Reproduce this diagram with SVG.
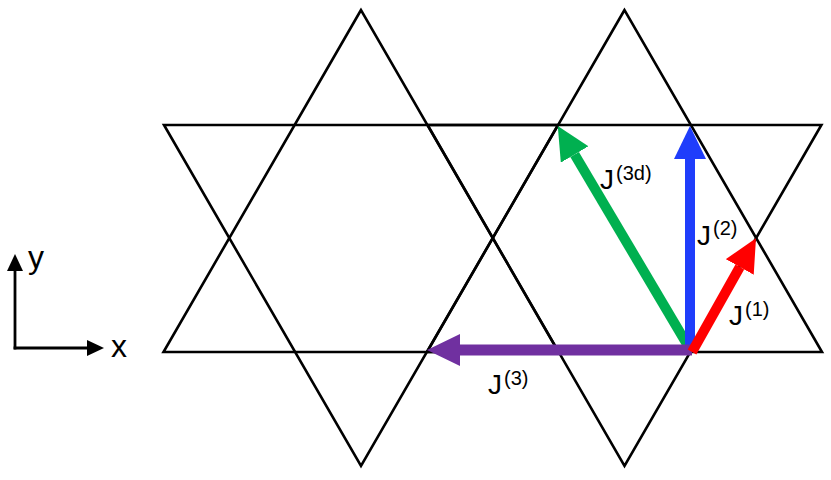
<svg xmlns="http://www.w3.org/2000/svg" width="831" height="480" viewBox="0 0 831 480">
<style>
.lat{fill:none;stroke:#000;stroke-width:2.6;stroke-linejoin:miter}
.ax{fill:none;stroke:#000;stroke-width:2.8}
.lbl{font-family:"Liberation Sans",Arial,sans-serif;fill:#000}
.j{font-size:28px}
.s{font-size:20px}
.axl{font-size:32px}
</style>
<defs>
<marker id="hR" viewBox="0 0 33 32" refX="0" refY="16" markerWidth="33" markerHeight="32" markerUnits="userSpaceOnUse" orient="auto"><path d="M0,0 L33,16 L0,32 z" fill="#ff0000"/></marker>
<marker id="hB" viewBox="0 0 33 32" refX="0" refY="16" markerWidth="33" markerHeight="32" markerUnits="userSpaceOnUse" orient="auto"><path d="M0,0 L33,16 L0,32 z" fill="#1f3dfb"/></marker>
<marker id="hG" viewBox="0 0 33 32" refX="0" refY="16" markerWidth="33" markerHeight="32" markerUnits="userSpaceOnUse" orient="auto"><path d="M0,0 L33,16 L0,32 z" fill="#00b050"/></marker>
<marker id="hP" viewBox="0 0 33 32" refX="0" refY="16" markerWidth="33" markerHeight="32" markerUnits="userSpaceOnUse" orient="auto"><path d="M0,0 L33,16 L0,32 z" fill="#7030a0"/></marker>
<marker id="hA" viewBox="0 0 17 16" refX="0" refY="8" markerWidth="17" markerHeight="16" markerUnits="userSpaceOnUse" orient="auto"><path d="M0,0 L17,8 L0,16 z" fill="#000"/></marker>
</defs>
<g id="lattice">
<polygon class="lat" points="361,10 163.5,352 558.5,352"/>
<polygon class="lat" points="164,125 558,125 361,466"/>
<polygon class="lat" points="624.5,10 427,352 822,352"/>
<polygon class="lat" points="427.6,125 821.4,125 624.5,466"/>
</g>
<g id="axes">
<path class="ax" d="M15,349.4 V271" marker-end="url(#hA)"/>
<path class="ax" d="M13.6,348 H87" marker-end="url(#hA)"/>
<text class="lbl axl" x="28" y="268">y</text>
<text class="lbl axl" x="111" y="357">x</text>
</g>
<g id="connectors">
<line x1="691" y1="351" x2="574.6" y2="154.5" stroke="#00b050" stroke-width="10" marker-end="url(#hG)"/>
<line x1="690" y1="351" x2="690" y2="159" stroke="#1f3dfb" stroke-width="10" marker-end="url(#hB)"/>
<line x1="692" y1="350" x2="460" y2="350" stroke="#7030a0" stroke-width="11" marker-end="url(#hP)"/>
<line x1="692" y1="352" x2="739.8" y2="267" stroke="#ff0000" stroke-width="10" marker-end="url(#hR)"/>
</g>
<g id="labels">
<text class="lbl" x="600" y="189"><tspan class="j">J</tspan><tspan class="s" dy="-9" dx="2">(3d)</tspan></text>
<text class="lbl" x="697" y="245"><tspan class="j">J</tspan><tspan class="s" dy="-10" dx="2">(2)</tspan></text>
<text class="lbl" x="729" y="325"><tspan class="j">J</tspan><tspan class="s" dy="-9" dx="2">(1)</tspan></text>
<text class="lbl" x="488" y="394"><tspan class="j">J</tspan><tspan class="s" dy="-9" dx="2">(3)</tspan></text>
</g>
</svg>
